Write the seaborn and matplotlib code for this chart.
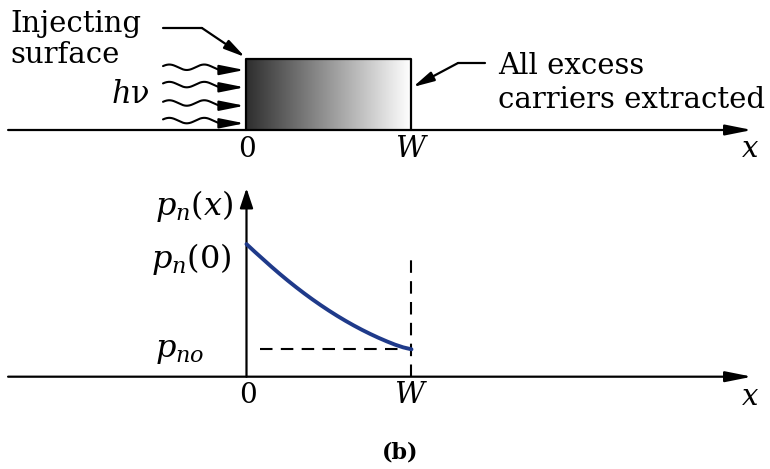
import numpy as np
import matplotlib
matplotlib.use("Agg")
import matplotlib.pyplot as plt
import seaborn as sns
import pandas as pd

sns.set_theme(style="white")
plt.rcParams['font.family'] = ['DejaVu Serif']
plt.rcParams['mathtext.fontset'] = 'dejavuserif'
plt.rcParams['text.color'] = 'black'

# ---- data: minority carrier profile p_n(x) across the short region (x in units of W)
x_pos = [0.00, 0.05, 0.10, 0.15, 0.20, 0.25, 0.30, 0.35, 0.40, 0.45, 0.50,
         0.55, 0.60, 0.65, 0.70, 0.75, 0.80, 0.85, 0.90, 0.95, 1.00]
p_n = [4.84, 4.56, 4.29, 4.02, 3.76, 3.51, 3.27, 3.04, 2.82, 2.61, 2.41,
       2.22, 2.04, 1.87, 1.71, 1.56, 1.42, 1.29, 1.17, 1.07, 1.00]
p_no = 1.0
x_ticks = ["0", "W"]
y_labels = [r"$p_n(x)$", r"$p_n(0)$", r"$p_{no}$"]

FS = 21
INK = "black"
CURVE = "#1f3a8a"

fig = plt.figure(figsize=(7.7, 4.69), dpi=100)
ax_top = fig.add_axes([0, (469 - 170) / 469, 1, 170 / 469])
ax_bot = fig.add_axes([0, 0, 1, (469 - 170) / 469])
XL = (-1.494, 3.173)
for a in (ax_top, ax_bot):
    a.set_xlim(*XL)
    a.axis("off")
ax_top.set_ylim(-1.460, 4.745)
ax_bot.set_ylim(-3.369, 7.544)


def arrow(ax, start, end, ms=20, hl=0.8, hw=0.16, lw=1.6):
    ax.annotate("", xy=end, xytext=start,
                arrowprops=dict(arrowstyle=f"-|>,head_length={hl},head_width={hw}",
                                mutation_scale=ms, lw=lw, color=INK,
                                shrinkA=0, shrinkB=0))

# ================= top panel =================
box_h = 2.59
grad = np.linspace(0, 1, 256)[None, :]
cmap = matplotlib.colors.LinearSegmentedColormap.from_list("g", ["#2e2e2e", "#ffffff"])
ax_top.imshow(grad, extent=[0, 1, 0, box_h], aspect="auto", cmap=cmap, zorder=1)
ax_top.plot([0, 0, 1, 1], [0, box_h, box_h, 0], color=INK, lw=1.6, zorder=3)
arrow(ax_top, (-1.445, 0), (3.064, 0))
ax_top.text(0.003, -0.985, x_ticks[0], fontsize=FS - 1, ha="center", va="baseline")
ax_top.text(1.0, -0.985, r"$W$", fontsize=FS, ha="center", va="baseline")
ax_top.text(3.05, -0.985, r"$x$", fontsize=FS, ha="center", va="baseline")

ax_top.text(-1.433, 3.577, "Injecting", fontsize=FS, ha="left", va="baseline")
ax_top.text(-1.433, 2.445, "surface", fontsize=FS, ha="left", va="baseline")
ax_top.plot([-0.506, -0.270], [3.723, 3.723], color=INK, lw=1.6)
arrow(ax_top, (-0.270, 3.723), (-0.009, 2.664), ms=15, hl=0.85, hw=0.2)

ax_top.text(1.524, 2.044, "All excess", fontsize=FS, ha="left", va="baseline")
ax_top.text(1.524, 0.803, "carriers extracted", fontsize=FS, ha="left", va="baseline")
ax_top.plot([1.445, 1.282], [2.445, 2.445], color=INK, lw=1.6)
arrow(ax_top, (1.282, 2.445), (1.009, 1.569), ms=15, hl=0.85, hw=0.2)

ax_top.text(-0.585, 0.985, r"$h$ν", fontsize=FS + 1, ha="right", va="baseline")
lam = 0.212
w_start, w_end = -0.506, -0.150
for v0 in [2.190, 1.558, 0.886, 0.244]:
    u = np.linspace(w_start, w_end, 200)
    ax_top.plot(u, v0 + 0.1 * (1 - np.cos(2 * np.pi * (u - w_end) / lam)),
                color=INK, lw=1.5, solid_capstyle="round")
    arrow(ax_top, (w_end - 0.002, v0), (-0.012, v0), ms=15, hl=1.0, hw=0.2, lw=1.5)

# ================= bottom panel =================
df = pd.DataFrame({"x": x_pos, "p": p_n})
sns.lineplot(data=df, x="x", y="p", ax=ax_bot, color=CURVE, lw=2.8, zorder=4)
ax_bot.set_xlim(*XL)
ax_bot.set_ylim(-3.369, 7.544)
ax_bot.axis("off")
arrow(ax_bot, (-1.445, 0), (3.064, 0))
arrow(ax_bot, (0, 0), (0, 6.88), hl=0.6, hw=0.2)
ax_bot.plot([1, 1], [0, 4.26], color=INK, lw=1.5, ls=(0, (6, 4)))
ax_bot.plot([0.082, 1], [p_no, p_no], color=INK, lw=1.5, ls=(0, (6, 4)))

ax_bot.text(-0.082, 5.90, y_labels[0], fontsize=FS + 2, ha="right", va="baseline")
ax_bot.text(-0.088, 3.97, y_labels[1], fontsize=FS + 2, ha="right", va="baseline")
ax_bot.text(-0.555, 0.72, y_labels[2], fontsize=FS + 2, ha="left", va="baseline")
ax_bot.text(0.009, -0.96, x_ticks[0], fontsize=FS - 1, ha="center", va="baseline")
ax_bot.text(0.997, -0.96, r"$W$", fontsize=FS, ha="center", va="baseline")
ax_bot.text(3.05, -1.03, r"$x$", fontsize=FS, ha="center", va="baseline")
ax_bot.text(0.93, -2.97, "(b)", fontsize=16, fontweight="bold", ha="center", va="baseline")

fig.savefig("out.png", dpi=100, facecolor="white")
